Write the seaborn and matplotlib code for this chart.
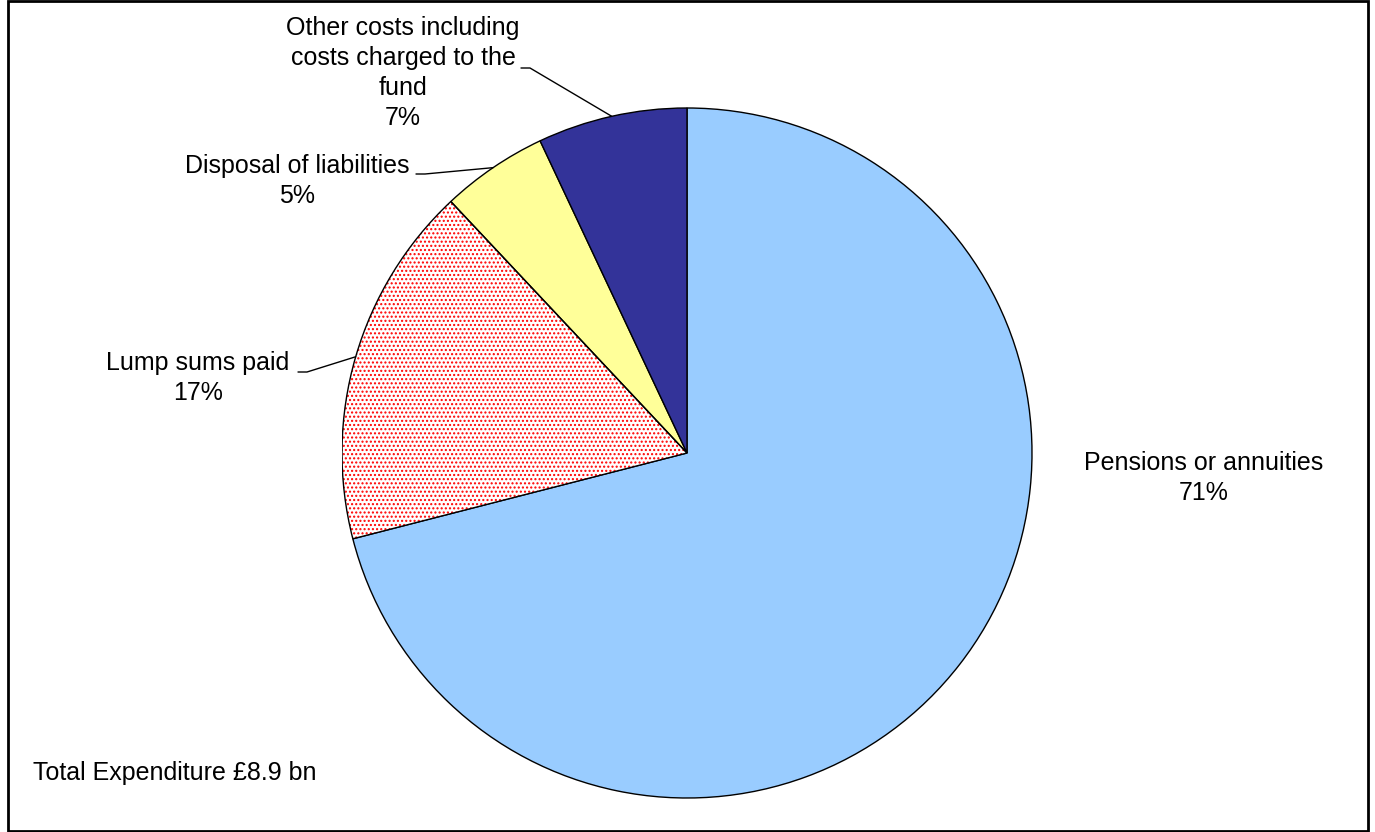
import numpy as np
import matplotlib
matplotlib.use("Agg")
import matplotlib.pyplot as plt
import seaborn as sns
from matplotlib.patches import Wedge, Rectangle

# Data
categories = ["Pensions or annuities", "Lump sums paid", "Disposal of liabilities",
              "Other costs including\ncosts charged to the\nfund"]
shares = [71, 17, 5, 7]
colors = ["#99CCFF", "white", "#FFFF99", "#333399"]
total_note = "Total Expenditure £8.9 bn"

sns.set_style("white")
plt.rcParams["font.family"] = ["Liberation Sans", "DejaVu Sans"]
plt.rcParams["text.color"] = "black"

W, H = 1375, 832
fig = plt.figure(figsize=(W / 100, H / 100), dpi=100)

# pie centre / radius in pixels
cx, cy, R = 687, 453, 345
ax = fig.add_axes([(cx - R) / W, (H - cy - R) / H, 2 * R / W, 2 * R / H])

wedges, _ = ax.pie(shares, colors=colors, startangle=90, counterclock=False,
                   wedgeprops=dict(edgecolor="black", linewidth=1.0))
ax.set_xlim(-1, 1)
ax.set_ylim(-1, 1)
ax.set_aspect("equal")
ax.axis("off")

# red dotted pattern for the lump sums slice
lump = wedges[1]
lump.set_edgecolor("red")
lump.set_linewidth(0)
lump.set_hatch("....")
outline = Wedge((0, 0), 1, lump.theta1, lump.theta2, facecolor="none",
                edgecolor="black", linewidth=1.0, zorder=lump.get_zorder() + 0.1)
ax.add_patch(outline)


def px(x, y):
    return (x - cx) / R, (cy - y) / R


def edge(w):
    t = np.deg2rad((w.theta1 + w.theta2) / 2)
    return np.cos(t), np.sin(t)


fs = 18
labels = [
    (categories[0], shares[0], (1204, 478)),
    (categories[1], shares[1], (198, 378)),
    (categories[2], shares[2], (297, 181)),
    (categories[3], shares[3], (403, 73)),
]
for name, val, (x, y) in labels:
    tx, ty = px(x, y)
    ax.text(tx, ty, f"{name}\n{val}%", ha="center", va="center",
            multialignment="center", fontsize=fs, linespacing=1.32,
            clip_on=False)

# leader lines for the small slices
starts = {1: (298, 372), 2: (416, 174), 3: (521, 68)}
for i, (sx, sy) in starts.items():
    x0, y0 = px(sx, sy)
    x1, y1 = px(sx + 9, sy)
    ex, ey = edge(wedges[i])
    ax.plot([x0, x1, ex], [y0, y1, ey], color="black", lw=1.0, clip_on=False)

fig.text(33 / W, 1 - 773 / H, total_note, ha="left", va="center", fontsize=fs)

# outer frame
fig.patches.append(Rectangle((8 / W, 1 / H), 1360 / W, 830 / H, transform=fig.transFigure,
                             fill=False, edgecolor="black", linewidth=2))

fig.savefig("out.png", dpi=100)
